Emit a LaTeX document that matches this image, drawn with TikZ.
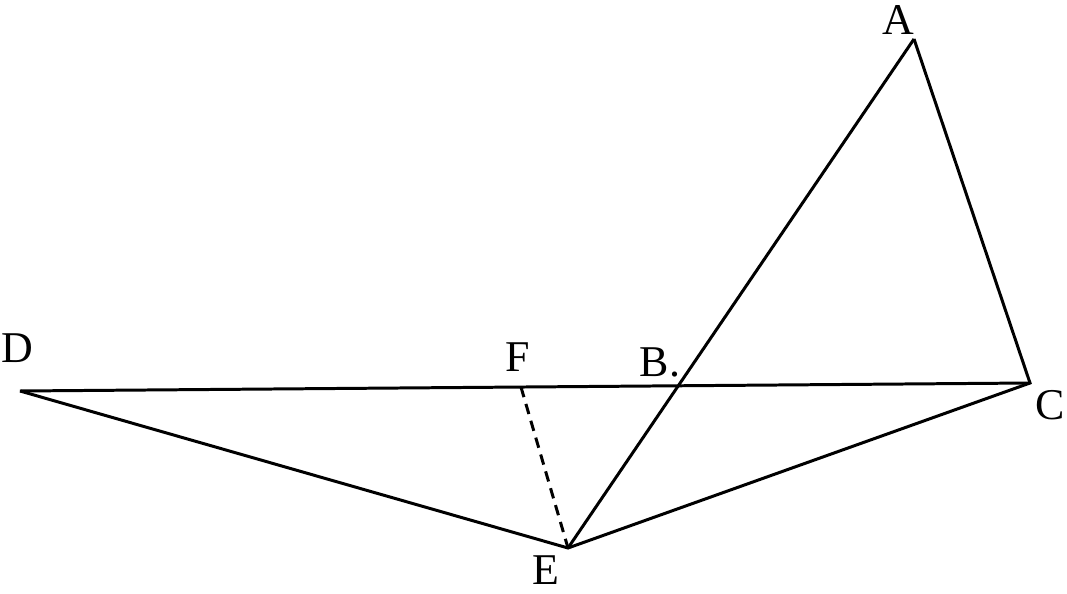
\documentclass[tikz,border=0pt]{standalone}
\usepackage{fontspec}
\setmainfont{Liberation Serif}
\usetikzlibrary{intersections, calc}
\begin{document}
\begin{tikzpicture}[x=0.02cm, y=-0.02cm, line width=1.7pt,
    lbl/.style={font=\fontsize{25}{30}\selectfont, inner sep=0pt}]
            \useasboundingbox (0, 0) rectangle (1067, 594);

            \coordinate (A) at (914, 39);
            \coordinate (C) at (1030, 383);
            \coordinate (D) at (20, 391);
            \coordinate (E) at (568, 548);
            \coordinate (F) at ($(D)!0.496!(C)$);

            \draw[name path=ae] (A) -- (E);
            \draw[name path=dc] (D) -- (C);
            \path[name intersections={of=ae and dc, by=B}];
            \draw (A) -- (C) -- (E) -- (D);
            \draw[dash pattern=on 6pt off 4pt] (F) -- (E);

            \node[lbl] (la) at (898, 20) {A};
            \node[lbl] (lb) at (660, 362) {B.};
            \node[lbl] (lc) at (1050, 405) {C};
            \node[lbl] (ld) at (17, 348) {D};
            \node[lbl] (le) at (546, 570) {E};
            \node[lbl] (lf) at (518, 357) {F};
        \end{tikzpicture}
\end{document}
